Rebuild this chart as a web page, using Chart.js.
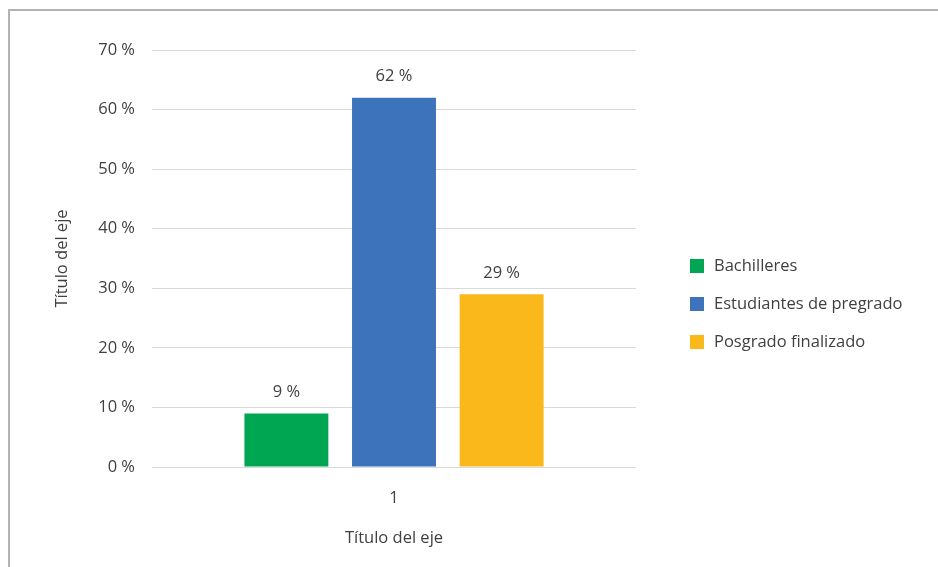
<!DOCTYPE html>
<html>
<head>
<meta charset="utf-8">
<script src="https://cdn.jsdelivr.net/npm/chart.js@4/dist/chart.umd.min.js"></script>
<style>
  html, body { margin: 0; padding: 0; background: #fff; }
  #wrap { position: relative; width: 938px; height: 567px; overflow: hidden; }
  #frame { position: absolute; left: 8px; top: 9px; width: 1000px; height: 700px;
           border-left: 2px solid #b3b3b3; border-top: 2px solid #b3b3b3; }
  canvas { position: absolute; left: 0; top: 0; }
</style>
</head>
<body>
<div id="wrap">
  <div id="frame"></div>
  <canvas id="c" width="938" height="567"></canvas>
</div>
<script>
const categories = ["1"];
const seriesNames = ["Bachilleres", "Estudiantes de pregrado", "Posgrado finalizado"];
const bachilleres = [9];
const pregrado = [62];
const posgrado = [29];
const seriesColors = ["#00A651", "#3D73BA", "#FBB81A"];
const yTicks = [0, 10, 20, 30, 40, 50, 60, 70];
const axisTitle = "Título del eje";

const FONT = "'Open Sans', 'Noto Sans', sans-serif";
const FS = 16.5;
const TXT = "#404040";

const dataLabels = {
  id: 'dataLabels',
  afterDatasetsDraw(chart) {
    const ctx = chart.ctx;
    ctx.save();
    ctx.font = FS + "px " + FONT;
    ctx.fillStyle = TXT;
    ctx.textAlign = 'center';
    ctx.textBaseline = 'middle';
    chart.data.datasets.forEach((ds, i) => {
      chart.getDatasetMeta(i).data.forEach((bar, j) => {
        ctx.fillText(ds.data[j] + ' %', bar.x, bar.y - 21);
      });
    });
    ctx.restore();
  }
};

const customLegend = {
  id: 'customLegend',
  afterDraw(chart) {
    const ctx = chart.ctx;
    const a = chart.chartArea;
    const x0 = a.right + 54;
    const y0 = (a.top + a.bottom) / 2 + 7.5;
    const gap = 38;
    ctx.save();
    ctx.font = FS + "px " + FONT;
    ctx.textBaseline = 'middle';
    ctx.textAlign = 'left';
    chart.data.datasets.forEach((ds, i) => {
      const y = y0 + i * gap;
      ctx.fillStyle = ds.backgroundColor;
      ctx.fillRect(x0, y - 7, 14, 14);
      ctx.fillStyle = TXT;
      ctx.fillText(ds.label, x0 + 24, y);
    });
    ctx.restore();
  }
};

new Chart(document.getElementById('c'), {
  type: 'bar',
  data: {
    labels: categories,
    datasets: [
      { label: seriesNames[0], data: bachilleres, backgroundColor: seriesColors[0] },
      { label: seriesNames[1], data: pregrado, backgroundColor: seriesColors[1] },
      { label: seriesNames[2], data: posgrado, backgroundColor: seriesColors[2] }
    ]
  },
  options: {
    responsive: false,
    animation: false,
    devicePixelRatio: 1,
    layout: { padding: { left: 48, top: 50, right: 302, bottom: 15 } },
    datasets: { bar: { categoryPercentage: 0.667, barPercentage: 0.78 } },
    plugins: { legend: { display: false }, tooltip: { enabled: false } },
    scales: {
      x: {
        grid: { display: false, drawTicks: false },
        border: { display: false },
        ticks: { color: TXT, font: { family: FONT, size: FS }, padding: 21 },
        title: { display: true, text: axisTitle, color: TXT, font: { family: FONT, size: FS }, padding: { top: 4, bottom: 4 } },
        afterFit(s) { s.height = 85; }
      },
      y: {
        min: 0, max: 70,
        grid: { color: '#d9d9d9', lineWidth: 1, drawTicks: false },
        border: { display: false },
        afterBuildTicks(s) { s.ticks = yTicks.map(v => ({ value: v })); },
        ticks: { color: TXT, font: { family: FONT, size: FS }, padding: 17, callback: v => v + ' %' },
        title: { display: true, text: axisTitle, color: TXT, font: { family: FONT, size: FS }, padding: { top: 4, bottom: 4 } },
        afterFit(s) { s.width = 104; }
      }
    }
  },
  plugins: [dataLabels, customLegend]
});
</script>
</body>
</html>
